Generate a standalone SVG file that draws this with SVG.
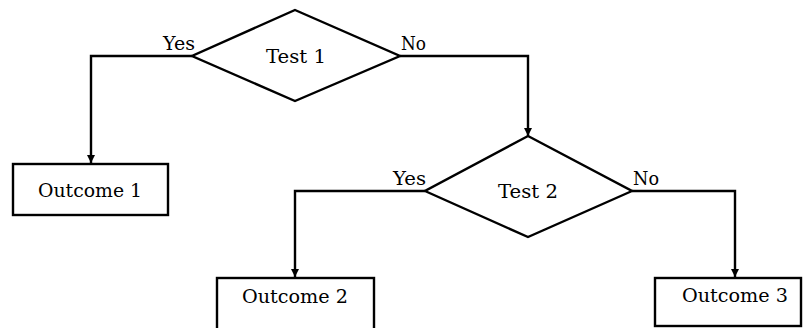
<svg xmlns="http://www.w3.org/2000/svg" width="804" height="328" viewBox="0 0 804 328">
  <style>
    .shape { fill: #fff; stroke: #000; stroke-width: 2.4; }
    .wire { fill: none; stroke: #000; stroke-width: 2.4; }
    .lbl { font-family: "DejaVu Serif", "Liberation Serif", serif; font-size: 19px; fill: #000; }
    .mid { text-anchor: middle; }
  </style>
  <defs>
    <marker id="arrow" viewBox="0 0 10 10" refX="10" refY="5" markerWidth="8" markerHeight="11" orient="auto" markerUnits="userSpaceOnUse">
      <path d="M0,0 L10,5 L0,10 Z" fill="#000"/>
    </marker>
  </defs>
  <rect width="804" height="328" fill="#fff"/>

  <g id="connectors">
    <path class="wire" d="M192,56 H91 V163" marker-end="url(#arrow)"/>
    <path class="wire" d="M400,56 H528 V136" marker-end="url(#arrow)"/>
    <path class="wire" d="M425,191 H295 V277" marker-end="url(#arrow)"/>
    <path class="wire" d="M632,191 H735 V277" marker-end="url(#arrow)"/>
    <text class="lbl" x="163" y="50" textLength="32" lengthAdjust="spacingAndGlyphs">Yes</text>
    <text class="lbl" x="401" y="50" textLength="25" lengthAdjust="spacingAndGlyphs">No</text>
    <text class="lbl" x="393" y="185" textLength="33" lengthAdjust="spacingAndGlyphs">Yes</text>
    <text class="lbl" x="633" y="185" textLength="26" lengthAdjust="spacingAndGlyphs">No</text>
  </g>

  <g id="test1">
    <polygon class="shape" points="295,10 400,56 295,101 192,56"/>
    <text class="lbl mid" x="296" y="63" textLength="60" lengthAdjust="spacingAndGlyphs">Test 1</text>
  </g>

  <g id="test2">
    <polygon class="shape" points="528,136 632,191 528,237 425,191"/>
    <text class="lbl mid" x="528" y="198" textLength="60" lengthAdjust="spacingAndGlyphs">Test 2</text>
  </g>

  <g id="outcome1">
    <rect class="shape" x="13" y="164" width="155" height="51"/>
    <text class="lbl mid" x="90" y="197" textLength="104" lengthAdjust="spacingAndGlyphs">Outcome 1</text>
  </g>

  <g id="outcome2">
    <rect class="shape" x="217" y="278" width="157" height="60"/>
    <text class="lbl mid" x="295" y="303" textLength="106" lengthAdjust="spacingAndGlyphs">Outcome 2</text>
  </g>

  <g id="outcome3">
    <rect class="shape" x="655" y="278" width="146" height="48"/>
    <text class="lbl mid" x="735" y="302" textLength="106" lengthAdjust="spacingAndGlyphs">Outcome 3</text>
  </g>
</svg>
